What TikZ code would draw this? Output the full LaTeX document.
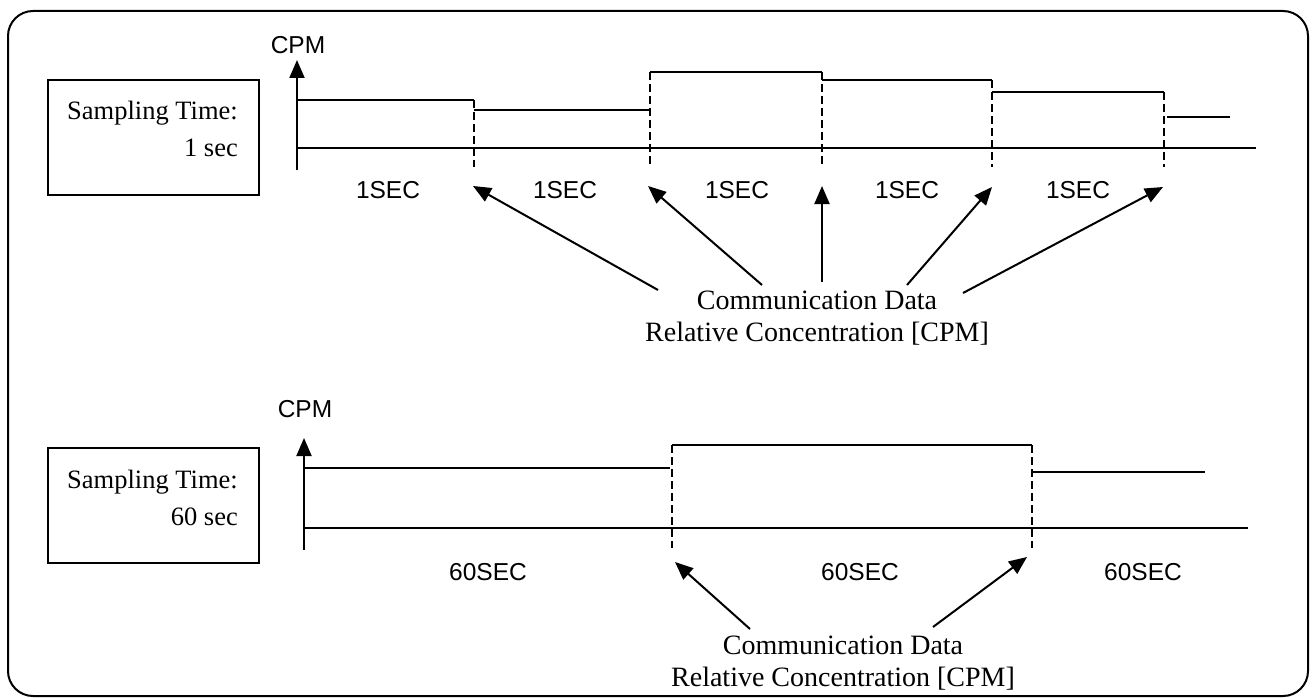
\documentclass[tikz,border=0pt]{standalone}
\usepackage{fontspec}
\setmainfont{Liberation Serif}
\newfontfamily\arialfont{Liberation Sans}
\usetikzlibrary{arrows.meta}

\tikzset{
	sig/.style={line width=2pt},
	cut/.style={line width=2pt, dash pattern=on 8pt off 4pt},
	pointer/.style={line width=2pt, -{Triangle[length=18pt,width=15pt]}},
	sampbox/.style={draw, line width=2pt, minimum width=211pt, minimum height=115pt, inner sep=0pt},
	sectext/.style={font=\arialfont\fontsize{24.5}{28}\selectfont, inner sep=0pt},
	boxtext/.style={font=\fontsize{26.5}{30}\selectfont, inner sep=0pt, anchor=base east},
	comtext/.style={font=\fontsize{28}{32}\selectfont, align=center, inner sep=0pt}
}

\begin{document}
\begin{tikzpicture}[x=1pt, y=-1pt]
			\useasboundingbox (0,0) rectangle (1316,698);
			%Frame
			\draw[line width=2pt, rounded corners=25pt] (8,11) rectangle (1308,696);
			
			%Sampling 1 sec
			\node[sampbox] (box1) at (153.5,137.5) {};
			\node[boxtext] (samp1) at (238,120) {Sampling Time:};
			\node[boxtext] (secs1) at (238,157) {1 sec};
			
			%Axes
			\node[sectext] (cpm1) at (298,45) {CPM};
			\draw[pointer] (297,170) -- (297,60);
			\draw[sig] (297,148) -- (1256,148);
			
			%Steps
			\draw[sig] (297,100) -- (474,100);
			\draw[sig] (474,110) -- (650,110);
			\draw[sig] (650,72) -- (822,72);
			\draw[sig] (822,80) -- (992,80);
			\draw[sig] (992,92) -- (1164,92);
			\draw[sig] (1167,117) -- (1230,117);
			
			%Cuts
			\draw[cut] (474,100) -- (474,167);
			\draw[cut] (650,72) -- (650,167);
			\draw[cut] (822,72) -- (822,167);
			\draw[cut] (992,80) -- (992,167);
			\draw[cut] (1164,92) -- (1164,167);
			
			\node[sectext] (sec1) at (388,190) {1SEC};
			\node[sectext] (sec2) at (565,190) {1SEC};
			\node[sectext] (sec3) at (737,190) {1SEC};
			\node[sectext] (sec4) at (907,190) {1SEC};
			\node[sectext] (sec5) at (1078,190) {1SEC};
			
			%Communication Data
			\node[comtext] (com1) at (817,318) {Communication Data\\Relative Concentration [CPM]};
			\coordinate (a1) at (658,290);
			\coordinate (a2) at (762,285);
			\coordinate (a3) at (822,282);
			\coordinate (a4) at (907,285);
			\coordinate (a5) at (963,293);
			\coordinate (t1) at (473,186);
			\coordinate (t2) at (648,186);
			\coordinate (t3) at (822,186);
			\coordinate (t4) at (992,187);
			\coordinate (t5) at (1163,187);
			\draw[pointer] (a1) -- (t1);
			\draw[pointer] (a2) -- (t2);
			\draw[pointer] (a3) -- (t3);
			\draw[pointer] (a4) -- (t4);
			\draw[pointer] (a5) -- (t5);
			
			%Sampling 60 sec
			\node[sampbox] (box2) at (153.5,505.5) {};
			\node[boxtext] (samp2) at (238,488) {Sampling Time:};
			\node[boxtext] (secs2) at (238,525) {60 sec};
			
			%Axes
			\node[sectext] (cpm2) at (305,409) {CPM};
			\draw[pointer] (304,550) -- (304,438);
			\draw[sig] (304,528) -- (1248,528);
			
			%Steps
			\draw[sig] (304,468) -- (670,468);
			\draw[sig] (672,445) -- (1032,445);
			\draw[sig] (1032,472) -- (1205,472);
			
			%Cuts
			\draw[cut] (672,445) -- (672,548);
			\draw[cut] (1032,445) -- (1032,548);
			
			\node[sectext] (sec6) at (488,572) {60SEC};
			\node[sectext] (sec7) at (860,572) {60SEC};
			\node[sectext] (sec8) at (1143,572) {60SEC};
			
			%Communication Data
			\node[comtext] (com2) at (843,663) {Communication Data\\Relative Concentration [CPM]};
			\coordinate (b1) at (750,629);
			\coordinate (b2) at (933,627);
			\coordinate (u1) at (675,562);
			\coordinate (u2) at (1027,557);
			\draw[pointer] (b1) -- (u1);
			\draw[pointer] (b2) -- (u2);
\end{tikzpicture}
\end{document}
